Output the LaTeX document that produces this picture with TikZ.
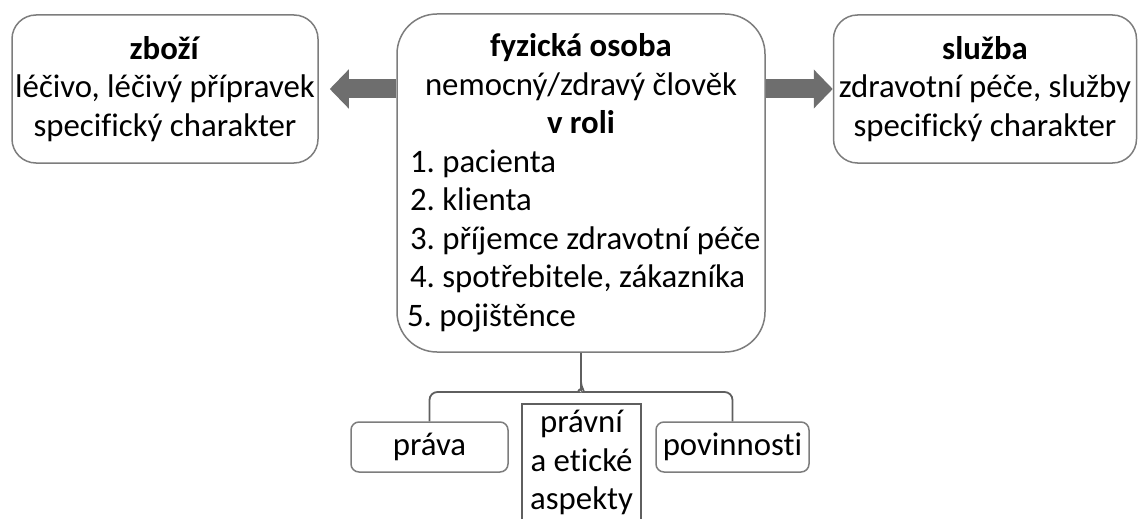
\documentclass[tikz,border=0pt]{standalone}
\usepackage{fontspec}
\setmainfont[Ligatures=NoCommon]{Carlito}
\usetikzlibrary{arrows.meta}
\definecolor{boxgray}{RGB}{125,125,125}
\definecolor{arrowgray}{RGB}{110,110,110}
\definecolor{framegray}{RGB}{95,95,95}
\newcommand{\roleline}[1]{\makebox[171pt][l]{#1}}
\frenchspacing

\begin{document}
\begin{tikzpicture}[x=0.5pt,y=-0.5pt,
    every node/.style={font=\fontsize{16.4}{19.25}\selectfont},
    sidebox/.style={draw=boxgray, line width=0.75pt, rounded corners=12pt,
        minimum height=74pt, inner sep=0pt, align=center},
    osobabox/.style={draw=boxgray, line width=0.75pt, rounded corners=20pt,
        minimum width=184pt, minimum height=169pt, inner sep=0pt,
        text width=171pt, align=flush center},
    smallbox/.style={draw=boxgray, line width=0.75pt, rounded corners=4pt,
        minimum height=25pt, inner sep=0pt},
    aspektbox/.style={draw=framegray, line width=1.2pt, minimum width=59.5pt,
        inner xsep=0pt, inner ysep=3pt, align=center, text depth=30pt},
    fatarrow/.style={draw=arrowgray, line width=9.5pt,
        -{Triangle[length=9.5pt,width=19pt]}},
    bracket/.style={draw=framegray, line width=0.9pt, rounded corners=4pt}]
\useasboundingbox (0,0) rectangle (1140,519);
%
\node[sidebox, minimum width=153pt] (zbozi) at (165,89)
    {\textbf{zboží}\\léčivo, léčivý přípravek\\specifický charakter};
\node[sidebox, minimum width=151.5pt] (sluzba) at (985,89)
    {\textbf{služba}\\zdravotní péče, služby\\specifický charakter};
\node[osobabox] (osoba) at (581,183)
    {\textbf{fyzická osoba}\\nemocný/zdravý člověk\\\textbf{v roli}\\
     \roleline{1. pacienta}\\\roleline{2. klienta}\\
     \roleline{3. příjemce zdravotní péče}\\
     \roleline{4. spotřebitele, zákazníka}\\
     \roleline{\hspace{-1.5pt}5. pojištěnce}};
%
\draw[fatarrow, shorten >=5.5pt] (osoba.west |- zbozi.east) -- (zbozi.east);
\draw[fatarrow] (osoba.east |- sluzba.west) -- (sluzba.west);
%
\node[smallbox, minimum width=78.5pt] (prava) at (429.5,447) {práva};
\node[smallbox, minimum width=76.5pt] (povinnosti) at (732.5,447) {povinnosti};
\node[aspektbox, anchor=north] (aspekty) at (581.5,403)
    {právní\\a etické\\aspekty};
%
\coordinate (hub) at (581,392);
\draw[bracket] (prava.north) |- ([xshift=-5pt]hub)
    to[out=0,in=-90] ([yshift=5pt]hub) -- (osoba.south);
\draw[bracket] (povinnosti.north) |- ([xshift=5pt]hub)
    to[out=180,in=-90] ([yshift=5pt]hub);
\end{tikzpicture}
\end{document}
